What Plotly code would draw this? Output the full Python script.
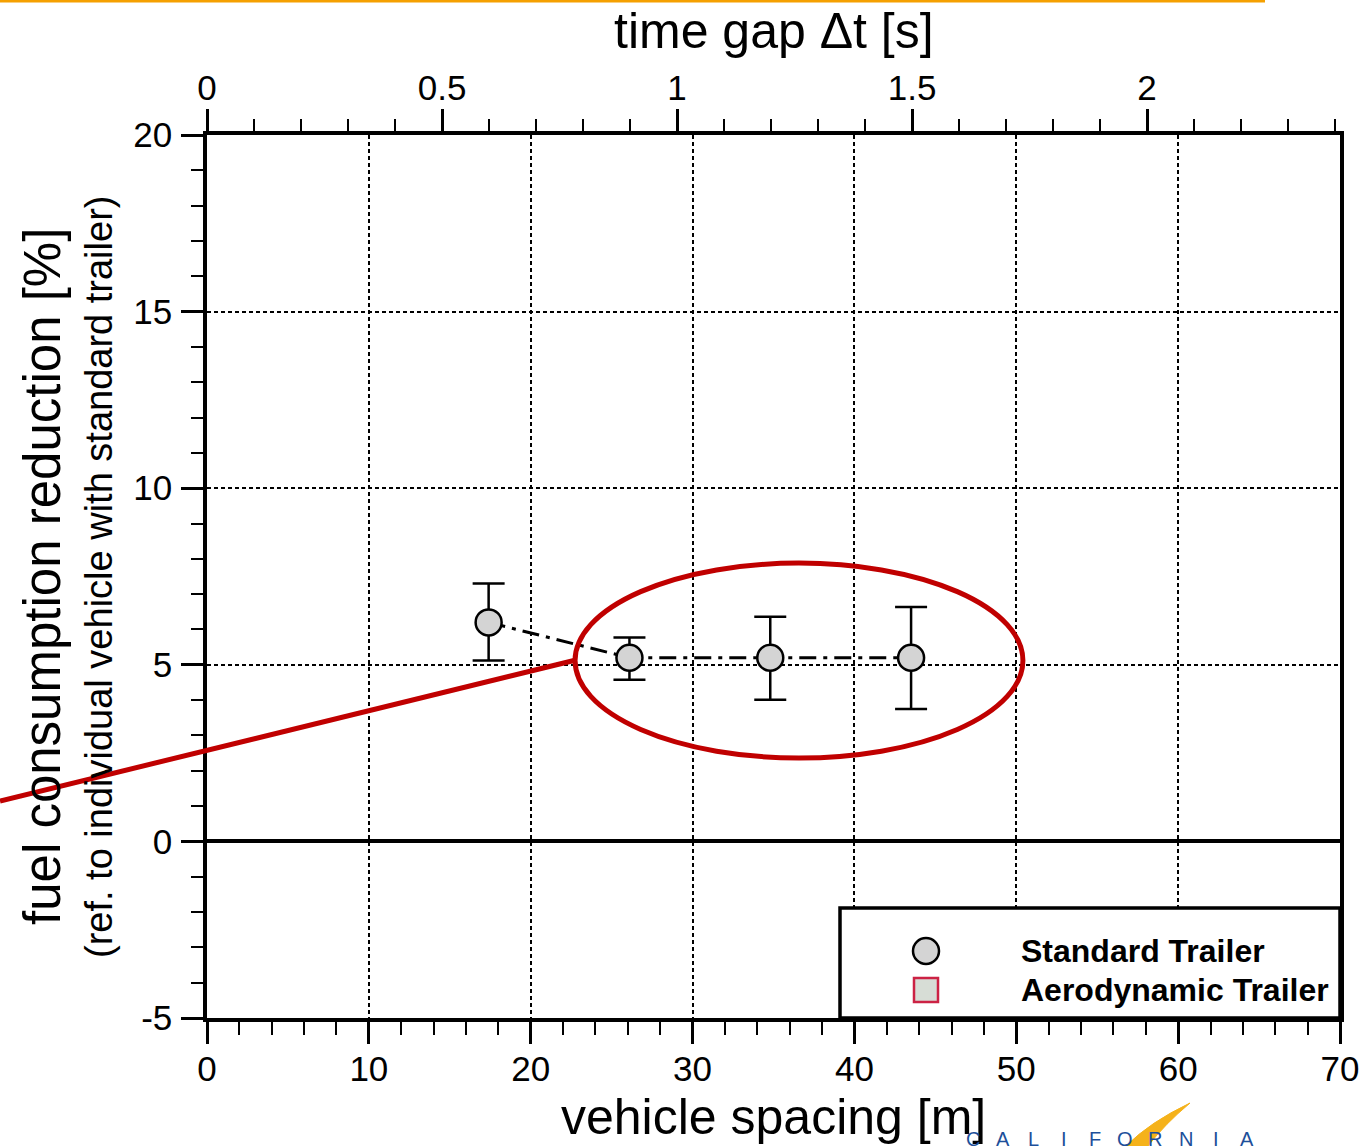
import plotly.graph_objects as go

# ---------------- data ----------------
spacing_m = [17.4, 26.1, 34.8, 43.5]          # vehicle spacing [m]
fuel_reduction = [6.2, 5.2, 5.2, 5.2]          # fuel consumption reduction [%]
err_plus = [1.1, 0.57, 1.16, 1.44]
err_minus = [1.08, 0.62, 1.19, 1.45]
SPEED = 29.04                                   # m/s  (spacing -> time gap)

x_range = [0, 70]
y_range = [-5, 20]
y_tickvals = [-5, 0, 5, 10, 15, 20]
y_ticktext = ["-5", "0", "5", "10", "15", "20"]
legend_names = ["Standard Trailer", "Aerodynamic Trailer"]
logo_letters = ["C", "A", "L", "I", "F", "O", "R", "N", "I", "A"]

# ---------------- layout helpers (pixel -> paper) ----------------
W, H = 1365, 1146
L, R, T, B = 207, 1340, 135, 1018


def px(x):
    return (x - L) / (R - L)


def py(y):
    return (B - y) / (B - T)


FONT = "Liberation Sans, Arial, sans-serif"
time_gap = [s / SPEED for s in spacing_m]

fig = go.Figure()

fig.add_trace(go.Scatter(
    x=spacing_m, y=fuel_reduction,
    mode="lines+markers",
    line=dict(color="black", width=3, dash="17px,7px,4px,7px"),
    marker=dict(symbol="circle", size=26, color="#d4d4d4",
                line=dict(color="black", width=2.5)),
    error_y=dict(type="data", symmetric=False, array=err_plus,
                 arrayminus=err_minus, color="black", thickness=2.5, width=16),
    showlegend=False, hoverinfo="x+y",
))

# invisible trace to carry the time-gap axis
fig.add_trace(go.Scatter(
    x=time_gap, y=fuel_reduction, xaxis="x2", mode="markers",
    marker=dict(opacity=0), showlegend=False, hoverinfo="skip",
))

tickfont = dict(family=FONT, size=35, color="black")

fig.update_layout(
    width=W, height=H,
    margin=dict(l=L, r=W - R, t=T, b=H - B, autoexpand=False),
    paper_bgcolor="white", plot_bgcolor="white",
    showlegend=False,
    xaxis=dict(
        range=x_range, dtick=10, tick0=0,
        showline=True, linecolor="black", linewidth=4,
        ticks="outside", ticklen=22, tickwidth=3, tickcolor="black",
        minor=dict(dtick=2, ticks="outside", ticklen=13, tickwidth=2,
                   tickcolor="black", showgrid=False),
        showgrid=True, gridcolor="black", gridwidth=2, griddash="4px,3px",
        zeroline=False, tickfont=tickfont, ticklabelstandoff=-5,
    ),
    xaxis2=dict(
        range=[x_range[0] / SPEED, x_range[1] / SPEED], dtick=0.5, tick0=0,
        overlaying="x", side="top", anchor="y",
        showline=True, linecolor="black", linewidth=4,
        ticks="outside", ticklen=22, tickwidth=3, tickcolor="black",
        minor=dict(dtick=0.1, ticks="outside", ticklen=12, tickwidth=2,
                   tickcolor="black", showgrid=False),
        showgrid=False, zeroline=False, tickfont=tickfont, ticklabelstandoff=-5,
    ),
    yaxis=dict(
        range=y_range, tickvals=y_tickvals, ticktext=y_ticktext,
        showline=True, mirror=True, linecolor="black", linewidth=3.5,
        ticks="outside", ticklen=22, tickwidth=3, tickcolor="black",
        minor=dict(dtick=1, ticks="outside", ticklen=12, tickwidth=2,
                   tickcolor="black", showgrid=False),
        showgrid=True, gridcolor="black", gridwidth=2, griddash="4px,3px",
        zeroline=True, zerolinecolor="black", zerolinewidth=3.5,
        tickfont=tickfont, ticklabelstandoff=2,
    ),
)

annotations = [
    dict(text="vehicle spacing [m]", x=0.5, y=py(1117), xref="paper", yref="paper",
         xanchor="center", yanchor="middle", showarrow=False,
         font=dict(family=FONT, size=50, color="black")),
    dict(text="time gap \u0394t [s]", x=0.5, y=py(31), xref="paper", yref="paper",
         xanchor="center", yanchor="middle", showarrow=False,
         font=dict(family=FONT, size=50, color="black")),
    dict(text="fuel consumption reduction [%]", x=px(42), y=py(577),
         xref="paper", yref="paper", xanchor="center", yanchor="middle",
         textangle=-90, showarrow=False,
         font=dict(family=FONT, size=51, color="black")),
    dict(text="(ref. to individual vehicle with standard trailer)", x=px(99), y=py(577),
         xref="paper", yref="paper", xanchor="center", yanchor="middle",
         textangle=-90, showarrow=False,
         font=dict(family=FONT, size=38, color="black")),
]

# legend texts
for name, yc in zip(legend_names, [951, 990]):
    annotations.append(dict(
        text="<b>" + name + "</b>", x=px(1019), y=py(yc), xref="paper", yref="paper",
        xanchor="left", yanchor="middle", showarrow=False,
        font=dict(family=FONT, size=32, color="black")))

# CALIFORNIA logo letters
for i, ch in enumerate(logo_letters):
    annotations.append(dict(
        text=ch, x=px(973 + i * 30.4), y=py(1139), xref="paper", yref="paper",
        xanchor="center", yanchor="middle", showarrow=False,
        font=dict(family=FONT, size=20, color="#1d4f9a")))

fig.update_layout(annotations=annotations)

shapes = [
    # legend box
    dict(type="rect", xref="paper", yref="paper", x0=px(840), x1=1, y0=0, y1=py(908),
         fillcolor="white", line=dict(color="black", width=3.5), layer="above"),
    # legend glyphs
    dict(type="circle", xref="paper", yref="paper", xsizemode="pixel", ysizemode="pixel",
         xanchor=px(926), yanchor=py(951), x0=-13, x1=13, y0=-13, y1=13,
         fillcolor="#d4d4d4", line=dict(color="black", width=2.5), layer="above"),
    dict(type="rect", xref="paper", yref="paper", xsizemode="pixel", ysizemode="pixel",
         xanchor=px(926), yanchor=py(990), x0=-12, x1=12, y0=-12, y1=12,
         fillcolor="#d7ddd6", line=dict(color="#cc2244", width=2.5), layer="above"),
    # red highlight ellipse
    dict(type="circle", xref="x", yref="y", x0=22.74, x1=50.41, y0=2.36, y1=7.88,
         line=dict(color="#c00000", width=5), layer="above"),
    # red pointer line
    dict(type="line", xref="paper", yref="paper", x0=px(0), y0=py(801), x1=px(576), y1=py(660),
         line=dict(color="#c00000", width=5), layer="above"),
    # orange header rule
    dict(type="line", xref="paper", yref="paper", x0=px(0), y0=py(1), x1=px(1265), y1=py(1),
         line=dict(color="#f5a000", width=3), layer="above"),
    # yellow logo swoosh
    dict(type="path", xref="paper", yref="paper",
         path="M {:.4f} {:.4f} Q {:.4f} {:.4f} {:.4f} {:.4f} L {:.4f} {:.4f} Q {:.4f} {:.4f} {:.4f} {:.4f} Z".format(
             px(1190), py(1103), px(1150), py(1122), px(1126), py(1146),
             px(1148), py(1146), px(1165), py(1124), px(1190), py(1103)),
         fillcolor="#f5b21a", line=dict(color="#f5b21a", width=1), layer="above"),
]
fig.update_layout(shapes=shapes)

fig.write_html("out.html", config={"displayModeBar": False},
               post_script="document.body.style.margin='0';document.body.style.overflow='hidden';")
